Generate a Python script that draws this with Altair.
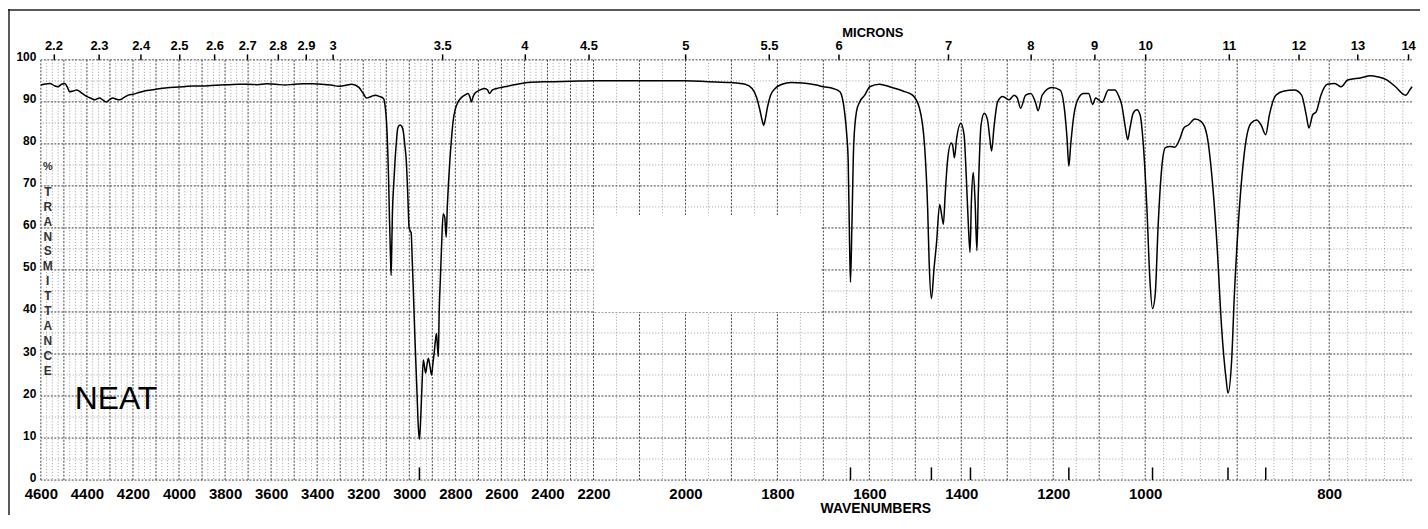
import altair as alt
import pandas as pd

# ---------------- spectrum (wavenumber cm-1, % transmittance) ----------------
wavenumbers = [
    4600, 4585, 4561, 4540, 4526, 4510, 4496, 4485, 4475, 4460, 4444, 4425, 4401, 4380, 4366, 4345,
    4330, 4315, 4300, 4288, 4270, 4258, 4240, 4220, 4200, 4170, 4140, 4100, 4060, 4020, 3980, 3940,
    3900, 3860, 3820, 3780, 3740, 3700, 3660, 3620, 3580, 3540, 3500, 3460, 3420, 3380, 3340, 3307,
    3280, 3250, 3220, 3200, 3186, 3165, 3148, 3130, 3112, 3104, 3099, 3094, 3090, 3086, 3082, 3079,
    3076, 3073, 3068, 3062, 3056, 3050, 3040, 3033, 3026, 3020, 3013, 3006, 3001, 2995, 2992, 2987,
    2982, 2977, 2972, 2966, 2961, 2956, 2951, 2946, 2939, 2934, 2929, 2923, 2917, 2910, 2903, 2897,
    2892, 2887, 2882, 2878, 2874, 2870, 2865, 2860, 2853, 2846, 2840, 2835, 2824, 2817, 2810, 2800,
    2788, 2770, 2759, 2745, 2737, 2730, 2723, 2716, 2695, 2673, 2660, 2651, 2640, 2620, 2586, 2550,
    2485, 2400, 2298, 2200,
    2100, 2000, 1950, 1900, 1870, 1855, 1845, 1838, 1833, 1830, 1827, 1822, 1815, 1805, 1790, 1770,
    1745, 1715, 1700, 1679, 1664, 1654, 1649, 1646, 1643, 1641, 1638, 1634, 1628, 1621, 1610, 1599,
    1578, 1556, 1527, 1506, 1491, 1480, 1473, 1470, 1465, 1459, 1454, 1447, 1443, 1439, 1435, 1430,
    1422, 1419, 1415, 1410, 1401, 1394, 1389, 1385, 1381, 1378, 1374, 1370, 1366, 1363, 1357, 1350,
    1343, 1338, 1334, 1329, 1321, 1310, 1296, 1285, 1278, 1271, 1260, 1249, 1238, 1233, 1224, 1203,
    1185, 1175, 1170, 1166, 1162, 1155, 1145, 1134, 1123, 1114, 1108, 1101, 1094, 1080, 1066, 1058,
    1051, 1043, 1038, 1033, 1026, 1018, 1011, 1004,
    998, 995, 992, 989, 986, 982, 978, 973, 968, 962, 958, 953, 946, 939, 933, 928,
    922, 917, 912, 910, 906, 903, 899, 895, 890, 885, 879, 874, 869, 865, 858, 849,
    838, 830, 825, 822, 818, 814, 809, 802, 794, 787, 780, 766, 755, 748, 737, 728,
    717, 712, 710,
]
transmittance = [
    94.0, 94.2, 94.4, 93.8, 93.6, 94.2, 94.4, 93.5, 92.4, 92.6, 92.8, 92.2, 91.3, 90.8, 90.5, 90.9,
    90.4, 90.0, 90.6, 90.9, 90.6, 90.5, 91.0, 91.6, 91.8, 92.3, 92.7, 93.0, 93.3, 93.5, 93.6, 93.8,
    93.8, 93.9, 94.0, 94.1, 94.2, 94.2, 94.1, 94.3, 94.2, 94.0, 94.2, 94.3, 94.3, 94.2, 94.0, 93.7,
    93.9, 94.2, 93.5, 92.0, 90.9, 91.3, 91.6, 91.3, 90.8, 88.5, 85.3, 79.0, 71.9, 62.0, 54.0, 48.7,
    56.0, 64.0, 70.0, 75.9, 80.5, 83.8, 84.5, 84.2, 83.0, 80.0, 75.9, 67.0, 60.1, 59.2, 58.9, 52.0,
    44.4, 36.0, 28.6, 20.0, 12.8, 9.7, 14.0, 20.8, 28.6, 27.0, 25.5, 27.5, 29.0, 27.0, 25.0, 28.0,
    30.2, 33.0, 34.9, 32.0, 29.4, 40.4, 48.0, 55.4, 63.3, 62.5, 57.8, 64.9, 75.9, 81.0, 85.3, 88.3,
    90.0, 91.2, 91.6, 92.0, 91.2, 90.0, 91.2, 92.0, 92.8, 93.2, 92.8, 92.0, 92.8, 93.2, 93.6, 94.0,
    94.6, 94.8, 94.9, 95.0,
    95.0, 95.0, 94.8, 94.6, 94.2, 93.2, 91.0, 88.0, 85.5, 84.4, 85.5, 88.5, 91.5, 93.2, 94.2, 94.6,
    94.5, 94.0, 93.6, 93.2, 92.4, 87.7, 82.0, 75.9, 56.2, 47.1, 60.1, 79.8, 87.7, 90.0, 91.6, 93.6,
    94.2, 93.6, 92.6, 91.6, 88.5, 79.8, 64.1, 52.2, 43.2, 50.7, 56.2, 65.6, 63.3, 60.9, 68.0, 75.9,
    80.2, 79.8, 76.7, 81.4, 84.9, 82.2, 71.9, 61.7, 54.2, 66.4, 73.2, 66.4, 54.6, 68.0, 84.5, 87.3,
    85.7, 81.4, 78.3, 83.8, 90.0, 91.3, 90.5, 91.6, 90.9, 88.5, 91.6, 92.0, 89.7, 87.9, 91.6, 93.4,
    92.8, 87.7, 81.4, 74.7, 79.8, 86.9, 90.9, 92.0, 92.0, 89.4, 90.9, 90.5, 89.9, 92.8, 92.8, 91.5,
    89.3, 83.8, 81.0, 83.8, 87.3, 88.1, 86.9, 79.8,
    64.1, 48.3, 40.8, 44.4, 60.1, 74.3, 79.1, 79.4, 79.2, 81.4, 83.8, 84.5, 85.9, 85.3, 82.2, 73.5,
    56.2, 36.5, 23.9, 20.7, 28.6, 44.4, 60.1, 71.9, 81.4, 84.9, 85.7, 84.5, 82.2, 86.9, 91.6, 92.6,
    92.8, 91.6, 86.9, 83.8, 86.9, 87.7, 91.6, 94.2, 94.4, 93.6, 95.2, 95.7, 96.2, 96.0, 95.2, 93.6,
    91.6, 93.0, 93.6,
]

# ---------------- axis / annotation values ----------------
wavenumber_labels = [4600, 4400, 4200, 4000, 3800, 3600, 3400, 3200, 3000, 2800, 2600, 2400, 2200,
                     2000, 1800, 1600, 1400, 1200, 1000, 800]
micron_labels = [2.2, 2.3, 2.4, 2.5, 2.6, 2.7, 2.8, 2.9, 3, 3.5, 4, 4.5, 5, 5.5, 6, 7, 8, 9, 10,
                 11, 12, 13, 14]
percent_labels = [0, 10, 20, 30, 40, 50, 60, 70, 80, 90, 100]
peak_marks = [2956, 1641, 1465, 1380, 1166, 992, 910, 869]

grid_major_x = list(range(4600, 999, -100)) + [900, 800]
grid_minor_x = ([w for w in range(4575, 2200, -25) if w % 100] +
                [w for w in range(2150, 1000, -50) if w % 100] +
                [w for w in range(980, 710, -20) if w % 100])
grid_major_y = list(range(0, 101, 10))
grid_minor_y = list(range(5, 100, 10))

blank_box_wn = [2200, 1704]
blank_box_t = [40, 63]

FONT = "Liberation Sans"
W, H = 1377, 422

xs = alt.Scale(domain=[4600, 2200, 1000, 710], range=[0, 555, 1109, W], nice=False, zero=False)
ys = alt.Scale(domain=[0, 100], nice=False, zero=False)

spec = pd.DataFrame({"wn": wavenumbers, "T": transmittance, "i": range(len(wavenumbers))})

vminor = alt.Chart(pd.DataFrame({"wn": grid_minor_x})).mark_rule(
    color="#8a8a8a", strokeDash=[1, 2], strokeWidth=0.8
).encode(x=alt.X("wn:Q", scale=xs, axis=None))

vmajor = alt.Chart(pd.DataFrame({"wn": grid_major_x})).mark_rule(
    color="#444444", strokeDash=[2, 1.5], strokeWidth=1
).encode(x=alt.X("wn:Q", scale=xs, axis=None))

hminor = alt.Chart(pd.DataFrame({"T": grid_minor_y})).mark_rule(
    color="#8a8a8a", strokeDash=[1, 2], strokeWidth=0.8
).encode(y=alt.Y("T:Q", scale=ys, axis=None))

hmajor = alt.Chart(pd.DataFrame({"T": grid_major_y})).mark_rule(
    color="#444444", strokeDash=[2, 1.5], strokeWidth=1
).encode(y=alt.Y("T:Q", scale=ys, axis=None))

box = alt.Chart(pd.DataFrame({"x1": [blank_box_wn[0]], "x2": [blank_box_wn[1]],
                              "y1": [blank_box_t[0]], "y2": [blank_box_t[1]]})).mark_rect(
    color="white"
).encode(
    x=alt.X("x1:Q", scale=xs, axis=None), x2="x2:Q",
    y=alt.Y("y1:Q", scale=ys, axis=None), y2="y2:Q",
)

line = alt.Chart(spec).mark_line(color="black", strokeWidth=1.5, interpolate="monotone").encode(
    x=alt.X("wn:Q", scale=xs, axis=alt.Axis(
        orient="bottom", values=wavenumber_labels, format="d", ticks=False, tickSize=0,
        domain=False, grid=False,
        labelFont=FONT, labelFontSize=15, labelFontWeight="bold", labelColor="black",
        labelPadding=7, labelFlush=False, labelOverlap=False, labelBound=False,
        title="WAVENUMBERS", titleFont=FONT, titleFontSize=14, titleFontWeight="bold",
        titleColor="black", titleX=838, titleY=29, titleBaseline="middle", titleAlign="center",
    )),
    y=alt.Y("T:Q", scale=ys, axis=alt.Axis(
        orient="left", values=percent_labels, format="d", ticks=False, tickSize=0,
        domain=False, grid=False,
        labelFont=FONT, labelFontSize=12, labelFontWeight="bold", labelColor="black",
        labelPadding=5, labelOffset=-3, labelOverlap=False, labelBound=False, labelFlush=False,
        title=None,
    )),
    order="i:Q",
)

micron_df = pd.DataFrame({"wn": [10000.0 / m for m in micron_labels]})
top_axis = alt.Chart(micron_df).mark_point(opacity=0).encode(
    x=alt.X("wn:Q", scale=xs, axis=alt.Axis(
        orient="top", values=[10000.0 / m for m in micron_labels],
        labelExpr="format(10000/datum.value, '.1~f')",
        tickSize=6, tickColor="black", tickWidth=1.5, domain=False, grid=False,
        labelFont=FONT, labelFontSize=13, labelFontWeight="bold", labelColor="black",
        labelPadding=1, labelFlush=False, labelOverlap=False, labelBound=False,
        title="MICRONS", titleFont=FONT, titleFontSize=13, titleFontWeight="bold",
        titleColor="black", titleX=835, titleY=-27, titleBaseline="middle", titleAlign="center",
    )),
    y=alt.value(0),
)

marks = alt.Chart(pd.DataFrame({"wn": peak_marks, "lo": [0] * len(peak_marks),
                                "hi": [3] * len(peak_marks)})).mark_rule(
    color="black", strokeWidth=1.5
).encode(x=alt.X("wn:Q", scale=xs, axis=None), y=alt.Y("lo:Q", scale=ys, axis=None), y2="hi:Q")

neat = alt.Chart(pd.DataFrame({"wn": [4453], "T": [16.8], "t": ["NEAT"]})).mark_text(
    font=FONT, fontSize=32, color="black", align="left", baseline="alphabetic"
).encode(x=alt.X("wn:Q", scale=xs, axis=None), y=alt.Y("T:Q", scale=ys, axis=None), text="t:N")

pct = alt.Chart(pd.DataFrame({"wn": [4570], "T": [74.5], "t": ["%"]})).mark_text(
    font=FONT, fontSize=11, fontWeight="bold", color="#333333", align="center", baseline="middle"
).encode(x=alt.X("wn:Q", scale=xs, axis=None), y=alt.Y("T:Q", scale=ys, axis=None), text="t:N")

ylabel_letters = list("TRANSMITTANCE")
ylab = alt.Chart(pd.DataFrame({"wn": [4570], "T": [69.8]})).mark_text(
    text=ylabel_letters, lineHeight=15, font=FONT, fontSize=12, fontWeight="bold",
    color="#333333", align="center", baseline="top"
).encode(x=alt.X("wn:Q", scale=xs, axis=None), y=alt.Y("T:Q", scale=ys, axis=None))

# outer frame of the scanned sheet (top and left edges)
frame_top = alt.Chart(pd.DataFrame({"k": [0]})).mark_rule(color="#222222", strokeWidth=1.5).encode(
    x=alt.value(-33), x2=alt.value(W + 8), y=alt.value(-50)
)
frame_left = alt.Chart(pd.DataFrame({"k": [0]})).mark_rule(color="#222222", strokeWidth=1.5).encode(
    x=alt.value(-32), y=alt.value(-51), y2=alt.value(H + 35)
)

chart = alt.layer(
    vminor, vmajor, hminor, hmajor, box, marks, line, top_axis, neat, pct, ylab,
    frame_top, frame_left,
).resolve_axis(x="independent", y="independent").properties(
    width=W, height=H,
    autosize=alt.AutoSizeParams(type="none"),
    padding={"left": 33, "top": 51, "right": 8, "bottom": 35},
    background="white",
).configure_view(stroke=None)

chart.save("out.html", embed_options={"renderer": "svg", "actions": False})
